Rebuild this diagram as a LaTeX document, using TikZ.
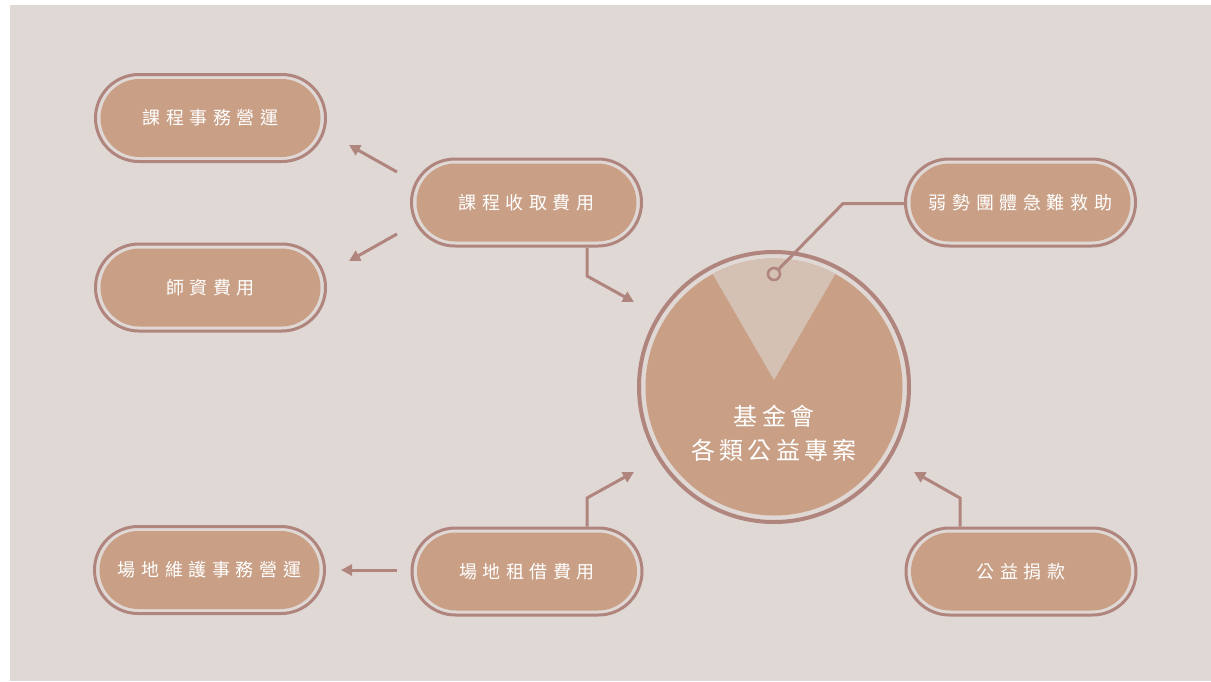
\documentclass[tikz,border=0pt]{standalone}
\usepackage{fontspec}
\usetikzlibrary{arrows.meta,shapes.misc}
\newfontfamily\cjk[LetterSpace=31]{Noto Sans CJK TC}
\newfontfamily\cjkbig[LetterSpace=18]{Noto Sans CJK TC}
\definecolor{bgc}{HTML}{E0D8D5}
\definecolor{pillc}{HTML}{C9A086}
\definecolor{linec}{HTML}{B0857E}
\definecolor{wedgec}{HTML}{D4C1B3}
\tikzset{
  outerpill/.style={rounded rectangle, draw=linec, line width=3pt, minimum width=230pt, minimum height=87pt, inner sep=0pt},
  innerpill/.style={rounded rectangle, fill=pillc, minimum width=220pt, minimum height=78pt, inner sep=0pt, text=white, font=\cjk\fontsize{18pt}{21pt}\selectfont},
  conn/.style={draw=linec, line width=3pt},
  arr/.style={conn, -{Triangle[length=11pt,width=11pt]}},
}
\begin{document}
\begin{tikzpicture}[x=1pt,y=-1pt]
\useasboundingbox (0,0) rectangle (1211,681);
\fill[white] (0,0) rectangle (1211,681);
\fill[bgc] (10,5) rectangle (1211,681);

% pills
\node[outerpill] (p1o) at (210.5,118) {};
\node[innerpill] (p1) at (210.5,118) {課程事務營運};
\node[outerpill] (p2o) at (210.5,287.5) {};
\node[innerpill] (p2) at (210.5,287.5) {師資費用};
\node[outerpill] (p3o) at (526.5,202.5) {};
\node[innerpill] (p3) at (526.5,202.5) {課程收取費用};
\node[outerpill] (p4o) at (1020.5,202.5) {};
\node[innerpill] (p4) at (1020.5,202.5) {弱勢團體急難救助};
\node[outerpill] (p5o) at (209.5,570) {};
\node[innerpill] (p5) at (209.5,570) {場地維護事務營運};
\node[outerpill] (p6o) at (527,571.5) {};
\node[innerpill] (p6) at (527,571.5) {場地租借費用};
\node[outerpill] (p7o) at (1021,571.5) {};
\node[innerpill] (p7) at (1021,571.5) {公益捐款};

% central circle
\node[circle, draw=linec, line width=4pt, minimum size=270pt, inner sep=0pt] (co) at (774,387) {};
\node[circle, fill=pillc, minimum size=257pt, inner sep=0pt] (ci) at (774,387) {};
\begin{scope}
  \clip (774,387) circle (128.5);
  \fill[wedgec] (774,380) -- (700,252) -- (848,252) -- cycle;
\end{scope}
\node[circle, draw=linec, fill=wedgec, line width=2.5pt, minimum size=12pt, inner sep=0pt] (ring) at (774,274) {};
\node[text=white, align=center, font=\cjkbig\fontsize{24pt}{34pt}\selectfont] (ct) at (774,433) {基金會\\各類公益專案};

% connectors
\coordinate (r1) at (843,203.5);
\draw[conn] (ring) -- (r1) -- (p4o.west |- r1);

\coordinate (a1s) at (397,172);
\coordinate (a1e) at (349,145);
\draw[arr] (a1s) -- (a1e);
\coordinate (a2s) at (397,234);
\coordinate (a2e) at (349,261);
\draw[arr] (a2s) -- (a2e);

\coordinate (b1) at (587,276);
\coordinate (b1e) at (634,302);
\draw[arr] (p3o.south -| b1) -- (b1) -- (b1e);

\coordinate (b2) at (587,498);
\coordinate (b2e) at (634,472);
\draw[arr] (p6o.north -| b2) -- (b2) -- (b2e);

\coordinate (b3) at (960,498);
\coordinate (b3e) at (914,472);
\draw[arr] (p7o.north -| b3) -- (b3) -- (b3e);

\coordinate (c1s) at (397,570);
\coordinate (c1e) at (341,570);
\draw[arr] (c1s) -- (c1e);
\end{tikzpicture}
\end{document}
